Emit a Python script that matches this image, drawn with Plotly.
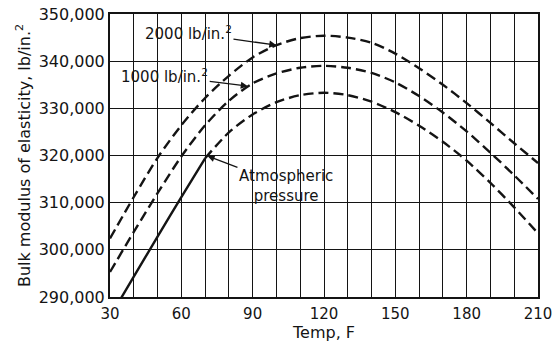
import plotly.graph_objects as go

# Temperature (F) and bulk modulus of elasticity (lb/in.^2) at three pressures
temp_f = [30, 40, 50, 60, 70, 80, 90, 100, 110, 120, 130, 140, 150, 160, 170, 180, 190, 200, 210]
modulus_2000 = [302400, 311200, 319500, 326400, 332200, 336900, 340800, 343400, 344900, 345400,
                345000, 343900, 341600, 338500, 335000, 331100, 326900, 322600, 318400]
modulus_1000 = [295300, 303800, 312000, 319800, 326400, 331600, 335300, 337400, 338600, 339000,
                338600, 337500, 335500, 332600, 329100, 325100, 320600, 315800, 310800]
modulus_atm = [285800, 294300, 302800, 311200, 319400, 324900, 328700, 331300, 332800, 333300,
               332800, 331400, 329200, 326300, 322900, 318900, 314200, 309000, 303500]

x_tick_vals = [30, 60, 90, 120, 150, 180, 210]
y_tick_vals = [290000, 300000, 310000, 320000, 330000, 340000, 350000]

FONT = "DejaVu Sans"
INK = "#141414"
DASH = "10px,5px"
SOLID_END = 5  # atmospheric curve drawn solid up to 70 F

fig = go.Figure()

line_kw = dict(mode="lines", line_shape="spline", hoverinfo="skip", showlegend=False)

fig.add_trace(go.Scatter(x=temp_f, y=modulus_2000,
                         line=dict(color=INK, width=2.4, dash=DASH, smoothing=0.8), **line_kw))
fig.add_trace(go.Scatter(x=temp_f, y=modulus_1000,
                         line=dict(color=INK, width=2.4, dash=DASH, smoothing=0.8), **line_kw))
fig.add_trace(go.Scatter(x=temp_f[:SOLID_END], y=modulus_atm[:SOLID_END],
                         line=dict(color=INK, width=2.4, smoothing=0.8), **line_kw))
fig.add_trace(go.Scatter(x=temp_f[SOLID_END - 1:], y=modulus_atm[SOLID_END - 1:],
                         line=dict(color=INK, width=2.4, dash=DASH, smoothing=0.8), **line_kw))

arrow_kw = dict(xref="x", yref="y", axref="x", ayref="y", showarrow=True,
                arrowhead=2, arrowsize=1.1, arrowwidth=1.3, arrowcolor=INK,
                font=dict(family=FONT, size=15, color=INK))

fig.add_annotation(text="2000 lb/in.<sup>2</sup>", x=100, y=343400, ax=63, ay=346000, **arrow_kw)
fig.add_annotation(text="1000 lb/in.<sup>2</sup>", x=88, y=334700, ax=53, ay=336900, **arrow_kw)
fig.add_annotation(text="Atmospheric<br>pressure", x=71, y=319900, ax=104, ay=313600,
                   align="center", **arrow_kw)

fig.update_layout(
    width=554, height=345,
    margin=dict(l=110, r=16, t=14, b=48),
    paper_bgcolor="white", plot_bgcolor="white",
    font=dict(family=FONT, size=15, color=INK),
)

fig.update_xaxes(
    range=[30, 210], tickvals=x_tick_vals, ticks="", automargin=False, ticklabelstandoff=2,
    showgrid=True, gridcolor=INK, gridwidth=1.2,
    minor=dict(dtick=10, tick0=30, showgrid=True, gridcolor=INK, gridwidth=1.2),
    showline=True, linecolor=INK, linewidth=2, mirror=True,
    zeroline=False, tickfont=dict(family=FONT, size=15, color=INK),
    title=dict(text="Temp, F", font=dict(family=FONT, size=16, color=INK), standoff=5),
)
fig.update_yaxes(
    range=[290000, 350000], tickvals=y_tick_vals, tickformat=",", ticks="", automargin=False,
    showgrid=True, gridcolor=INK, gridwidth=1.2,
    showline=True, linecolor=INK, linewidth=2, mirror=True,
    zeroline=False, tickfont=dict(family=FONT, size=16, color=INK),
    title=dict(text="Bulk modulus of elasticity, lb/in.<sup>2</sup>",
               font=dict(family=FONT, size=16, color=INK), standoff=4),
)

fig.write_html("out.html")
